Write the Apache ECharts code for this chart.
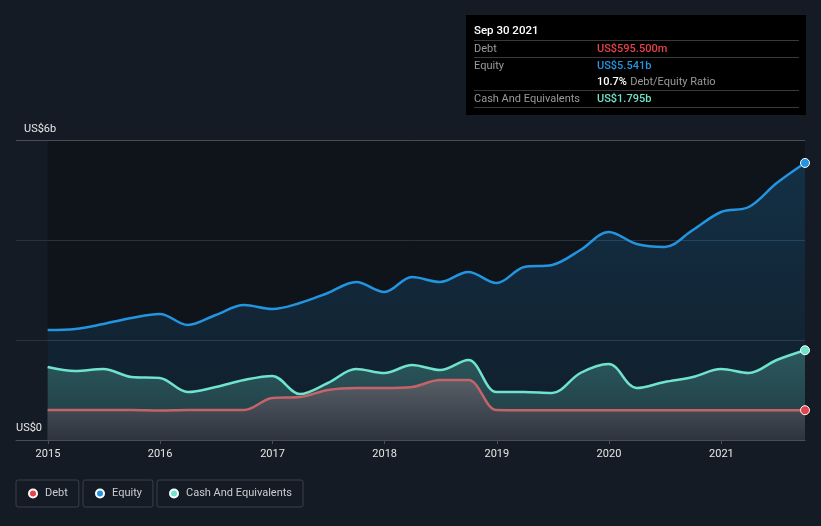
<!DOCTYPE html>
<html>
<head>
<meta charset="utf-8">
<script src="https://cdn.jsdelivr.net/npm/echarts@6/dist/echarts.min.js"></script>
<style>
html,body{margin:0;padding:0;background:#151b25;}
#c{width:821px;height:526px;}
</style>
</head>
<body>
<div id="c"></div>
<script>
var dates = ['2014-12-31','2015-03-31','2015-06-30','2015-09-30','2015-12-31','2016-03-31','2016-06-30','2016-09-30','2016-12-31','2017-03-31','2017-06-30','2017-09-30','2017-12-31','2018-03-31','2018-06-30','2018-09-30','2018-12-31','2019-03-31','2019-06-30','2019-09-30','2019-12-31','2020-03-31','2020-06-30','2020-09-30','2020-12-31','2021-03-31','2021-06-30','2021-09-30'];
var debt = [0.6,0.6,0.6,0.6,0.59,0.6,0.6,0.6,0.84,0.86,1.0,1.04,1.04,1.06,1.2,1.2,0.6,0.5955,0.5955,0.5955,0.5955,0.5955,0.5955,0.5955,0.5955,0.5955,0.5955,0.5955];
var equity = [2.2,2.22,2.32,2.44,2.52,2.3,2.5,2.7,2.62,2.74,2.94,3.16,2.96,3.26,3.16,3.36,3.14,3.46,3.5,3.8,4.16,3.92,3.86,4.2,4.56,4.66,5.14,5.541];
var cash = [1.46,1.38,1.42,1.26,1.24,0.96,1.06,1.2,1.28,0.92,1.14,1.42,1.34,1.5,1.4,1.6,0.96,0.96,0.94,1.34,1.52,1.04,1.16,1.26,1.42,1.34,1.6,1.795];
var yTicks = {0:'US$0', 6:'US$6b'};
var tipTitle = 'Sep 30 2021';
var tipRows = [['Debt','US$595.500m'],['Equity','US$5.541b'],['','10.7%','Debt/Equity Ratio'],['Cash And Equivalents','US$1.795b']];

function pairs(arr){ return dates.map(function(d,i){ return [d, arr[i]]; }); }
var last = dates.length - 1;
function endSymbol(v, p){ return p.dataIndex === last ? 'circle' : 'none'; }

var chart = echarts.init(document.getElementById('c'));
var F = 'Roboto, "Noto Sans", sans-serif';
var grad = function(a,b){ return new echarts.graphic.LinearGradient(0,0,0,1,[{offset:0,color:a},{offset:1,color:b}]); };

function legend(name, color, left){
  return {
    left: left, top: 480,
    data: [{name: name, itemStyle: {color: color}, icon: 'circle'}],
    itemWidth: 8, itemHeight: 8,
    padding: [8, 11, 8, 12],
    borderColor: '#3b4049', borderWidth: 1, borderRadius: 2,
    textStyle: {color: '#c9cdd2', fontSize: 11, fontFamily: F, padding: [0,0,0,3]},
    selectedMode: false
  };
}

var tipGraphic = [{type:'rect', shape:{x:466,y:15,width:340,height:100}, style:{fill:'#000'}},
  {type:'text', x:474, y:31, style:{text: tipTitle, fill:'#fff', font:'500 11.5px '+F, verticalAlign:'middle'}}];
[40,57,90,107].forEach(function(y){
  tipGraphic.push({type:'line', shape:{x1:474,y1:y+0.5,x2:799,y2:y+0.5}, style:{stroke:'#3a3a3a', lineWidth:1}});
});
var rowY = [49,66,82,99];
var rowColors = ['#e5434a','#2394df',null,'#6fe3cc'];
tipRows.forEach(function(r,i){
  if (r[0]) tipGraphic.push({type:'text', x:474, y:rowY[i], style:{text:r[0], fill:'#9a9a9a', font:'11px '+F, verticalAlign:'middle'}});
  if (rowColors[i]) {
    tipGraphic.push({type:'text', x:597, y:rowY[i], style:{text:r[1], fill:rowColors[i], font:'500 11px '+F, verticalAlign:'middle'}});
  } else {
    tipGraphic.push({type:'text', x:597, y:rowY[i], style:{text:'{a|'+r[1]+'} {b|'+r[2]+'}', verticalAlign:'middle', rich:{a:{fill:'#fff', font:'500 11px '+F}, b:{fill:'#9a9a9a', font:'11px '+F}}}});
  }
});

chart.setOption({
  backgroundColor: '#151b25',
  animation: false,
  grid: {left: 16, right: 16, top: 140, bottom: 86, containLabel: false},
  xAxis: {
    type: 'time', min: '2014-09-19', max: '2021-09-30', z: 1.5,
    minInterval: 365.25*86400000, maxInterval: 365.25*86400000,
    axisLine: {lineStyle: {color: '#4a4e56', width: 1}},
    axisTick: {show: true, length: 4, lineStyle: {color: '#4a4e56'}},
    axisLabel: {color: '#e6e6e6', fontSize: 11, fontFamily: F, margin: 9, formatter: '{yyyy}', showMinLabel: false, showMaxLabel: false},
    splitLine: {show: false}
  },
  yAxis: {
    type: 'value', min: 0, max: 6, interval: 2, z: 1.5,
    axisLine: {show: false}, axisTick: {show: false},
    axisLabel: {inside: true, margin: 0, verticalAlign: 'bottom', color: '#e6e6e6', fontSize: 11, fontFamily: F,
      formatter: function(v){ return yTicks[v] ? (v === 0 ? '{z|' + yTicks[v] + '}' : '{s|' + yTicks[v] + '}') : ''; },
      rich: {z: {padding: [0,0,6,0], fontSize: 11, color:'#e6e6e6'}, s: {padding: [0,0,5,8], fontSize: 11, color:'#e6e6e6'}}},
    splitLine: {lineStyle: {color: ['#4a4e56','#2a323c','#2a323c','#4a4e56'], width: 1}}
  },
  legend: [legend('Debt','#e5434a',16), legend('Equity','#2394df',83), legend('Cash And Equivalents','#6fe3cc',157)],
  graphic: tipGraphic,
  series: [
    {name: 'Equity', type: 'line', data: pairs(equity), smooth: 0.35, z: 2,
      symbol: endSymbol, showAllSymbol: true, symbolSize: 9,
      itemStyle: {color: '#2394df', borderColor: '#fff', borderWidth: 1},
      lineStyle: {color: '#2394df', width: 2.5},
      areaStyle: {color: grad('rgba(35,148,223,0.22)','rgba(35,148,223,0.07)'), opacity: 1},
      emphasis: {disabled: true},
      markArea: {silent: true, z: 1, itemStyle: {color: '#0f141b'}, data: [[{xAxis: dates[0]}, {xAxis: dates[last]}]]}
    },
    {name: 'Cash And Equivalents', type: 'line', data: pairs(cash), smooth: 0.35, z: 3,
      symbol: endSymbol, showAllSymbol: true, symbolSize: 9,
      itemStyle: {color: '#6fe3cc', borderColor: '#fff', borderWidth: 1},
      lineStyle: {color: '#6fe3cc', width: 2.5},
      areaStyle: {color: grad('rgba(111,227,204,0.28)','rgba(111,227,204,0.14)'), opacity: 1},
      emphasis: {disabled: true}
    },
    {name: 'Debt', type: 'line', data: pairs(debt), smooth: 0.35, z: 4,
      symbol: endSymbol, showAllSymbol: true, symbolSize: 9,
      itemStyle: {color: '#e5434a', borderColor: '#fff', borderWidth: 1},
      lineStyle: {color: '#c4646a', width: 2.5},
      areaStyle: {color: grad('rgba(88,94,102,1)','rgba(46,52,62,1)'), opacity: 1},
      emphasis: {disabled: true}
    }
  ]
});
</script>
</body>
</html>
